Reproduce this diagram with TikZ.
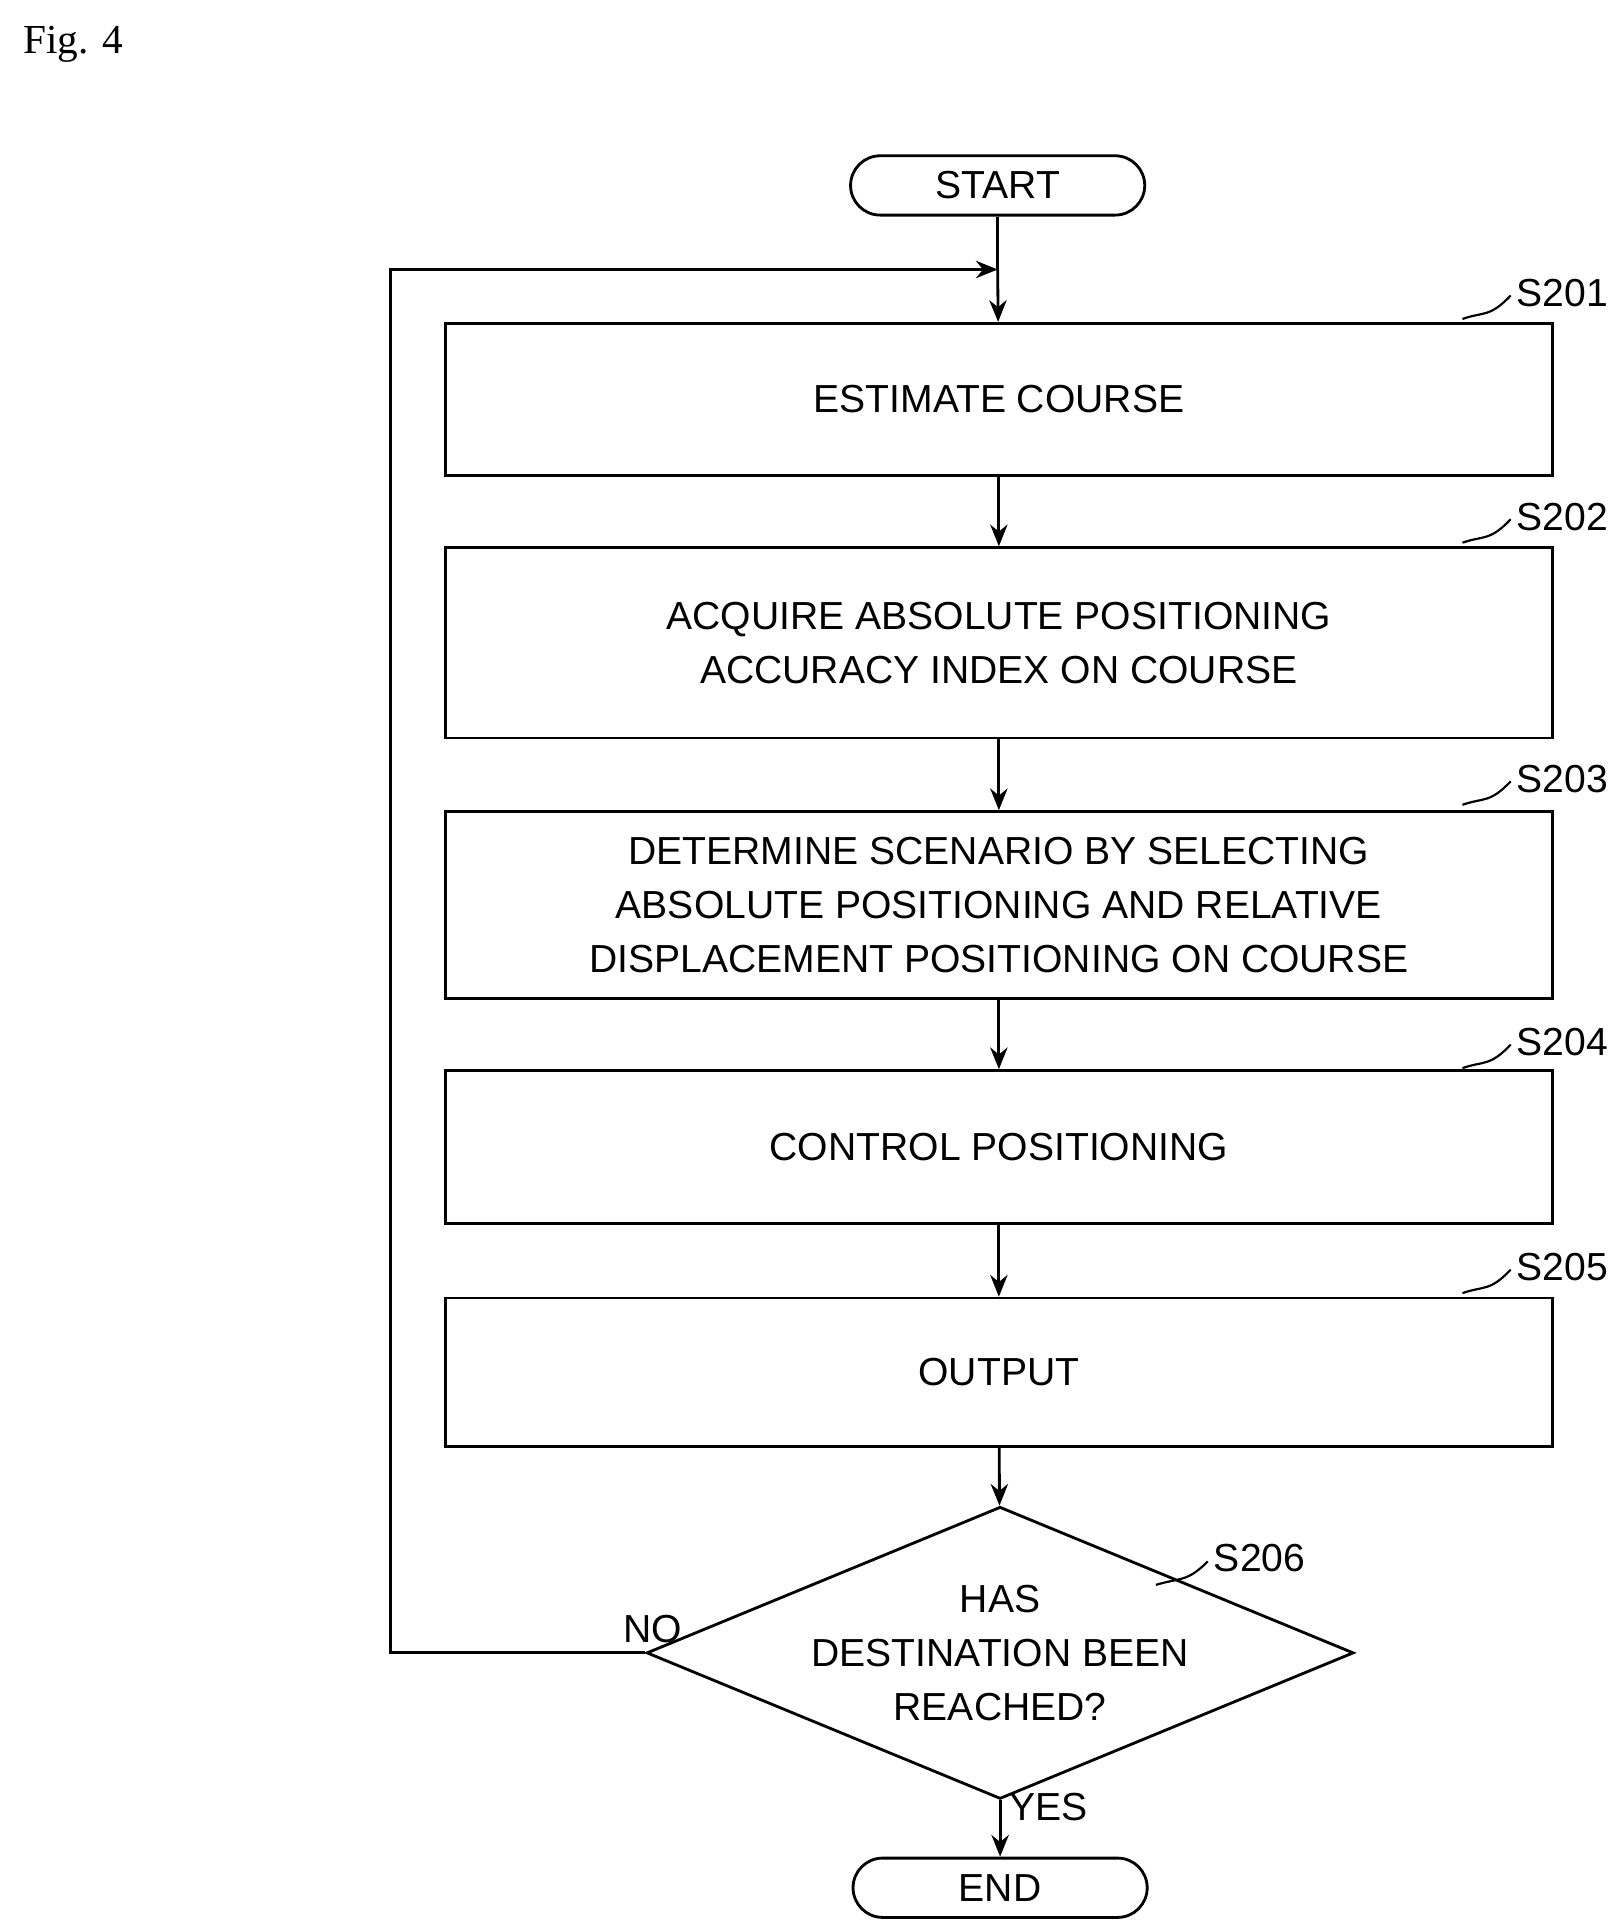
\documentclass[tikz,border=0pt]{standalone}
\usepackage{fontspec}
\setmainfont{Liberation Sans}
\newfontfamily\figfont{Liberation Serif}
\usetikzlibrary{shapes.geometric,arrows.meta}
\begin{document}
\begin{tikzpicture}[x=0.02cm,y=-0.02cm,
  line width=1.3pt,
  txt/.style={font=\fontsize{18}{25}\selectfont,align=center},
  box/.style={draw,rectangle,minimum width=17.92cm,txt},
  term/.style={draw,rounded corners=0.48cm,minimum width=4.76cm,minimum height=0.96cm,txt},
  arr/.style={-{Stealth[length=10pt,width=8pt]}},
  lab/.style={font=\fontsize{18}{20}\selectfont}]
\useasboundingbox (0,0) rectangle (1310,1562);
\node[anchor=north west,font=\figfont\fontsize{19}{22}\selectfont] (fig) at (12,14) {Fig. 4};
\node[term] (start) at (807,150) {START};
\node[box,minimum height=2.46cm] (s1) at (808,323) {ESTIMATE COURSE};
\node[box,minimum height=3.08cm] (s2) at (808,520) {ACQUIRE ABSOLUTE POSITIONING\\ACCURACY INDEX ON COURSE};
\node[box,minimum height=3.02cm] (s3) at (808,732) {DETERMINE SCENARIO BY SELECTING\\ABSOLUTE POSITIONING AND RELATIVE\\DISPLACEMENT POSITIONING ON COURSE};
\node[box,minimum height=2.48cm] (s4) at (808,928) {CONTROL POSITIONING};
\node[box,minimum height=2.4cm] (s5) at (808,1110) {OUTPUT};
\node[draw,diamond,aspect=2.42,minimum width=10.16cm,minimum height=4.2cm,inner sep=0pt,txt] (d) at (809,1337) {HAS\\DESTINATION BEEN\\REACHED?};
\node[term] (end) at (809,1527) {END};
\coordinate (m) at (807,218);
\coordinate (c1) at (316,1337);
\coordinate (c2) at (316,218);
\draw (start) -- (m);
\draw[arr] (m) -- (s1);
\draw[arr] (s1) -- (s2);
\draw[arr] (s2) -- (s3);
\draw[arr] (s3) -- (s4);
\draw[arr] (s4) -- (s5);
\draw[arr] (s5) -- (d);
\draw[arr] (d) -- (end);
\draw[arr] (d.west) -- (c1) -- (c2) -- (m);
\node[lab] (no) at (528,1318) {NO};
\node[lab] (yes) at (848,1462) {YES};
\foreach \n/\y in {1/237,2/418,3/630,4/843,5/1025}{
  \node[lab,anchor=west] (l\n) at (1220,\y) {S20\n};
  \draw[line width=1pt] (1183,\y+21) .. controls (1200,\y+15) and (1205,\y+20) .. (1222,\y+2);
}
\node[lab,anchor=west] (l6) at (975,1260) {S206};
\draw[line width=1pt] (935,1282) .. controls (955,1276) and (960,1280) .. (977,1263);
\end{tikzpicture}
\end{document}
